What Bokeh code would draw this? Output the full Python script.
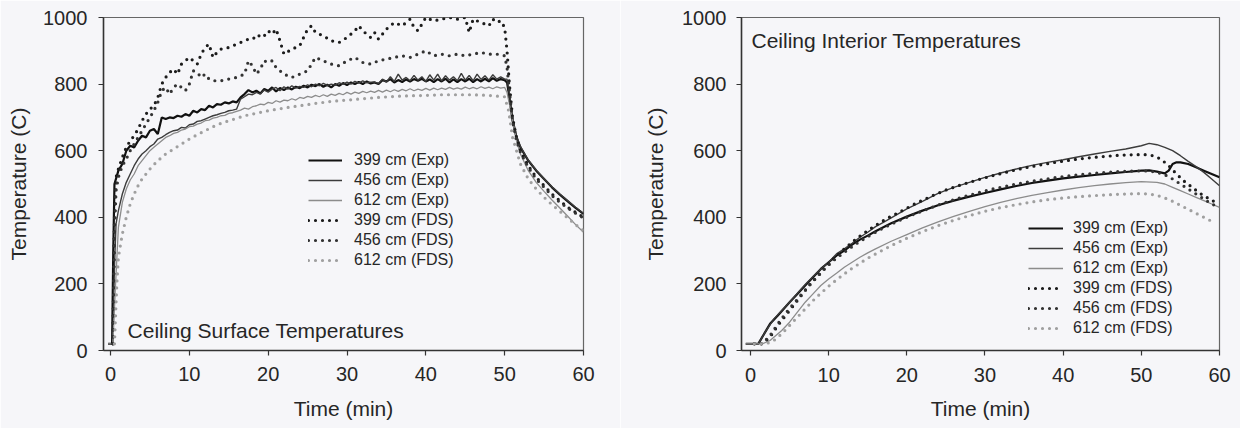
from bokeh.plotting import figure
from bokeh.layouts import row
from bokeh.models import Range1d, FixedTicker, Legend, LegendItem, Label
from bokeh.embed import file_html
from bokeh.resources import INLINE

# ---------------- data: ceiling surface (left) ----------------
SURF_GRID = [1.0, 1.5, 2.0, 2.5, 3.0, 3.5, 4.0, 4.5, 5.0, 5.5, 6.0, 6.5, 7.0, 7.5, 8.0, 8.5, 9.0, 9.5, 10.0, 10.5,
             11.0, 11.5, 12.0, 12.5, 13.0, 13.5, 14.0, 14.5, 15.0, 15.5, 16.0, 16.5, 17.0, 17.5, 18.0, 18.5, 19.0, 19.5, 20.0, 20.5,
             21.0, 21.5, 22.0, 22.5, 23.0, 23.5, 24.0, 24.5, 25.0, 25.5, 26.0, 26.5, 27.0, 27.5, 28.0, 28.5, 29.0, 29.5, 30.0, 30.5,
             31.0, 31.5, 32.0, 32.5, 33.0, 33.5, 34.0, 34.5, 35.0, 35.5, 36.0, 36.5, 37.0, 37.5, 38.0, 38.5, 39.0, 39.5, 40.0, 40.5,
             41.0, 41.5, 42.0, 42.5, 43.0, 43.5, 44.0, 44.5, 45.0, 45.5, 46.0, 46.5, 47.0, 47.5, 48.0, 48.5, 49.0, 49.5, 50.0]
SURF_DECAY_T = [50.3, 50.6, 51.0, 51.5, 52.0, 53.0, 54.0, 55.0, 56.0, 57.0, 58.0, 59.0, 60.0]

surf_399_exp_rise_t = [-0.3, 0.2, 0.35, 0.5]
surf_399_exp_rise = [20, 20, 300, 500]
surf_399_exp_main = [540, 560, 600, 615, 610, 630, 645, 640, 660, 665, 650, 700, 695, 700, 698, 705, 702, 710, 705, 720,
                     715, 725, 722, 735, 730, 740, 738, 745, 742, 748, 745, 760, 770, 782, 775, 780, 772, 785, 780, 790,
                     778, 788, 782, 790, 784, 792, 788, 795, 790, 798, 794, 800, 792, 798, 790, 800, 795, 803, 797, 805,
                     800, 806, 800, 808, 802, 805, 800, 812, 808, 815, 805, 812, 806, 814, 808, 815, 810, 816, 808, 814,
                     806, 815, 808, 816, 805, 814, 806, 815, 808, 816, 806, 815, 808, 816, 808, 818, 810, 815, 812]
surf_399_exp_decay = [805, 760, 690, 640, 610, 570, 540, 515, 490, 468, 448, 428, 410]

surf_456_exp_rise_t = [-0.3, 0.3, 0.5, 0.7]
surf_456_exp_rise = [20, 20, 250, 380]
surf_456_exp_main = [420, 470, 505, 530, 555, 575, 590, 600, 612, 620, 635, 640, 648, 655, 660, 662, 670, 668, 678, 680,
                     688, 690, 695, 700, 705, 708, 712, 715, 720, 722, 725, 755, 762, 770, 768, 775, 770, 782, 776, 785,
                     790, 780, 792, 785, 795, 788, 793, 790, 798, 792, 800, 795, 802, 796, 800, 797, 804, 799, 806, 800,
                     808, 803, 810, 804, 806, 806, 802, 815, 806, 822, 808, 830, 812, 820, 810, 826, 812, 822, 808, 828,
                     812, 830, 810, 825, 812, 822, 810, 832, 812, 826, 810, 830, 814, 825, 812, 828, 815, 822, 815]
surf_456_exp_decay = [815, 770, 700, 645, 612, 572, 542, 516, 492, 470, 450, 430, 412]

surf_612_exp_rise_t = [-0.3, 0.3, 0.6]
surf_612_exp_rise = [20, 20, 180]
surf_612_exp_main = [370, 445, 485, 512, 530, 555, 570, 585, 600, 610, 620, 630, 640, 645, 652, 655, 662, 665, 672, 674,
                     680, 683, 690, 692, 698, 700, 705, 706, 712, 714, 718, 722, 728, 725, 732, 735, 740, 738, 745, 742,
                     750, 746, 752, 750, 756, 752, 760, 757, 763, 760, 766, 762, 768, 763, 770, 766, 772, 768, 775, 770,
                     776, 772, 778, 774, 779, 775, 781, 776, 782, 777, 783, 778, 784, 780, 786, 780, 785, 781, 787, 782,
                     788, 783, 788, 784, 790, 785, 789, 785, 791, 786, 790, 786, 792, 787, 791, 786, 792, 788, 790]
surf_612_exp_decay = [775, 740, 690, 630, 590, 540, 505, 478, 452, 428, 403, 378, 355]

surf_399_fds_t = [0.3, 0.5, 0.7, 1.0, 1.5, 2.0, 2.5, 3.0, 3.5, 4.0, 4.5, 5.0, 5.5, 6.0, 6.5, 7.0, 7.5, 8.0, 8.5, 9.0,
                  10.0, 10.5, 11.0, 11.5, 12.0, 12.5, 13.0, 13.5, 14.0, 15.0, 16.0, 17.0, 18.0, 18.5, 19.0, 19.5, 20.0, 20.5,
                  21.0, 21.5, 22.0, 23.0, 24.0, 25.0, 25.5, 26.0, 27.0, 28.0, 29.0, 30.0, 31.0, 31.5, 32.0, 33.0, 33.5, 34.0,
                  35.0, 36.0, 37.0, 38.0, 38.5, 39.0, 40.0, 41.0, 42.0, 43.0, 44.0, 45.0, 45.5, 46.0, 47.0, 48.0, 48.5, 49.0,
                  49.5, 50.0, 50.3, 50.6, 51.0, 51.5, 52.0, 53.0, 54.0, 55.0, 56.0, 57.0, 58.0, 59.0, 60.0]
surf_399_fds = [20, 400, 520, 545, 580, 610, 630, 645, 665, 690, 710, 725, 735, 760, 800, 820, 835, 845, 830, 860,
                880, 870, 860, 890, 910, 920, 880, 895, 905, 910, 920, 930, 940, 935, 950, 945, 960, 950,
                965, 930, 890, 905, 915, 965, 975, 955, 945, 930, 925, 940, 960, 975, 960, 940, 955, 935,
                965, 985, 975, 995, 970, 960, 1000, 990, 995, 1000, 995, 1000, 955, 995, 985, 975, 995, 985,
                990, 970, 900, 800, 700, 640, 600, 555, 520, 495, 470, 450, 430, 415, 400]

surf_456_fds_t = [0.3, 0.5, 0.7, 1.0, 1.5, 2.0, 2.5, 3.0, 3.5, 4.0, 4.5, 5.0, 5.5, 6.0, 6.5, 7.0, 7.5, 8.0, 8.5, 9.0,
                  9.5, 10.0, 10.5, 11.0, 11.5, 12.0, 12.5, 13.0, 14.0, 15.0, 16.0, 17.0, 17.5, 18.0, 18.5, 19.0, 19.5, 20.0,
                  20.5, 21.0, 22.0, 23.0, 24.0, 25.0, 26.0, 27.0, 28.0, 29.0, 30.0, 31.0, 32.0, 33.0, 34.0, 35.0, 36.0,
                  37.0, 38.0, 39.0, 40.0, 41.0, 42.0, 43.0, 44.0, 45.0, 46.0, 47.0, 48.0, 49.0, 50.0, 50.3, 50.6, 51.0,
                  51.5, 52.0, 53.0, 54.0, 55.0, 56.0, 57.0, 58.0, 59.0, 60.0]
surf_456_fds = [20, 350, 480, 520, 555, 575, 600, 620, 640, 660, 680, 700, 720, 745, 780, 790, 770, 790, 800, 790,
                780, 800, 840, 835, 820, 830, 815, 810, 810, 815, 820, 830, 870, 855, 830, 845, 870, 865,
                870, 850, 830, 820, 830, 840, 880, 870, 860, 855, 870, 880, 865, 860, 870, 875, 880,
                885, 880, 890, 900, 885, 890, 885, 890, 885, 890, 895, 890, 890, 885, 850, 780, 690,
                630, 595, 550, 515, 490, 465, 445, 428, 412, 398]

surf_612_fds_t = [0.5, 0.8, 1.0, 1.5, 2.0, 2.5, 3.0, 3.5, 4.0, 4.5, 5.0, 5.5, 6.0, 7.0, 8.0, 9.0, 10.0, 11.0, 12.0, 13.0,
                  14.0, 15.0, 16.0, 17.0, 18.0, 19.0, 20.0, 22.0, 24.0, 26.0, 28.0, 30.0, 32.0, 34.0, 36.0, 38.0, 40.0,
                  42.0, 44.0, 46.0, 48.0, 50.0, 50.5, 51.0, 52.0, 53.0, 54.0, 55.0, 56.0, 57.0, 58.0, 59.0, 60.0]
surf_612_fds = [20, 200, 280, 350, 400, 440, 470, 495, 515, 530, 545, 558, 570, 590, 605, 620, 635, 648, 660, 672,
                682, 690, 697, 705, 710, 715, 720, 728, 735, 742, 748, 752, 756, 760, 763, 765, 766,
                768, 768, 768, 766, 762, 720, 640, 560, 515, 485, 460, 438, 418, 398, 378, 360]

# ---------------- data: ceiling interior (right) ----------------
int_399_exp_t = [-0.6, 1.0, 1.5, 2.5, 3.5, 5.0, 6.0, 7.0, 8.0, 9.0, 10.0, 11.0, 12.0, 13.0, 14.0, 15.0, 16.0, 18.0, 20.0,
                 22.0, 24.0, 26.0, 28.0, 30.0, 32.0, 34.0, 36.0, 38.0, 40.0, 42.0, 44.0, 46.0, 48.0, 50.0, 51.0, 52.0,
                 53.0, 53.5, 54.0, 54.5, 55.0, 56.0, 57.0, 58.0, 59.0, 60.0]
int_399_exp = [20, 20, 40, 80, 105, 145, 170, 195, 220, 245, 265, 285, 300, 318, 333, 345, 358, 382, 402,
               420, 436, 450, 462, 473, 484, 494, 503, 510, 517, 522, 527, 532, 536, 540, 541, 537,
               532, 540, 560, 565, 565, 560, 550, 540, 530, 520]

int_456_exp_t = [-0.6, 1.0, 2.0, 3.0, 4.0, 5.0, 6.0, 7.0, 8.0, 9.0, 10.0, 11.0, 12.0, 13.0, 14.0, 15.0, 16.0, 17.0, 18.0,
                 20.0, 22.0, 24.0, 26.0, 28.0, 30.0, 32.0, 34.0, 36.0, 38.0, 40.0, 42.0, 44.0, 46.0, 48.0, 50.0, 51.0,
                 52.0, 53.0, 54.0, 55.0, 56.0, 57.0, 58.0, 59.0, 60.0]
int_456_exp = [20, 20, 60, 95, 120, 145, 172, 198, 222, 245, 265, 290, 305, 322, 340, 355, 372, 385, 398,
               425, 448, 472, 490, 505, 520, 533, 545, 556, 565, 573, 582, 590, 598, 605, 615, 622,
               618, 610, 600, 585, 568, 552, 535, 515, 495]

int_612_exp_t = [-0.6, 1.5, 2.5, 4.0, 5.0, 6.0, 7.0, 8.0, 9.0, 10.0, 11.0, 12.0, 13.0, 14.0, 15.0, 16.0, 18.0, 20.0,
                 22.0, 24.0, 26.0, 28.0, 30.0, 32.0, 34.0, 36.0, 38.0, 40.0, 42.0, 44.0, 46.0, 48.0, 50.0, 52.0,
                 53.0, 54.0, 55.0, 56.0, 57.0, 58.0, 59.0, 60.0]
int_612_exp = [20, 20, 30, 60, 85, 115, 145, 170, 195, 215, 232, 250, 265, 280, 293, 305, 328, 348,
               368, 386, 403, 418, 432, 445, 456, 466, 474, 482, 489, 495, 500, 504, 507, 505,
               500, 490, 480, 470, 460, 450, 440, 430]

int_399_fds_t = [0.5, 1.5, 2.5, 3.5, 4.5, 5.5, 6.5, 7.5, 8.5, 9.5, 10.5, 11.5, 12.5, 13.5, 14.5, 15.5, 16.5, 17.5, 19.0,
                 21.0, 23.0, 25.0, 27.0, 29.0, 31.0, 33.0, 35.0, 37.0, 39.0, 41.0, 43.0, 45.0, 47.0, 49.0, 50.5, 51.5,
                 52.5, 53.5, 54.5, 55.5, 56.5, 57.5, 58.5, 59.5]
int_399_fds = [20, 20, 40, 75, 105, 135, 165, 195, 222, 248, 272, 295, 315, 335, 352, 368, 383, 397, 415,
               440, 462, 482, 498, 512, 525, 537, 548, 557, 565, 572, 578, 582, 586, 588, 588, 585,
               575, 555, 530, 508, 490, 472, 458, 445]

int_456_fds_t = [0.5, 1.5, 2.5, 3.5, 4.5, 5.5, 6.5, 7.5, 8.5, 9.5, 10.5, 12.0, 13.5, 15.0, 17.0, 19.0, 21.0, 23.0, 25.0,
                 27.0, 29.0, 31.0, 33.0, 35.0, 37.0, 39.0, 41.0, 43.0, 45.0, 47.0, 49.0, 51.0, 52.0, 53.0, 54.0, 55.0,
                 56.0, 57.0, 58.0, 59.0, 60.0]
int_456_fds = [20, 20, 45, 80, 112, 140, 168, 195, 220, 245, 268, 295, 320, 342, 368, 390, 410, 428, 445,
               460, 473, 485, 495, 504, 512, 519, 525, 530, 534, 537, 539, 539, 535, 528, 515, 500,
               485, 470, 455, 440, 430]

int_612_fds_t = [0.5, 2.0, 3.0, 4.0, 5.0, 6.0, 7.0, 8.0, 9.0, 10.0, 11.0, 12.0, 13.0, 14.0, 15.0, 16.0, 18.0, 20.0, 22.0,
                 24.0, 26.0, 28.0, 30.0, 32.0, 34.0, 36.0, 38.0, 40.0, 42.0, 44.0, 46.0, 48.0, 50.0, 51.0, 52.0, 53.0,
                 54.0, 55.0, 56.0, 57.0, 58.0, 59.0, 59.5]
int_612_fds = [20, 20, 30, 50, 75, 100, 125, 150, 172, 193, 212, 230, 247, 262, 277, 290, 315, 337, 357,
               375, 391, 405, 418, 429, 438, 446, 453, 458, 462, 465, 468, 470, 471, 470, 466, 458,
               448, 436, 424, 412, 400, 388, 380]

LABELS = ["399 cm (Exp)", "456 cm (Exp)", "612 cm (Exp)", "399 cm (FDS)", "456 cm (FDS)", "612 cm (FDS)"]
X_TICKS = [0, 10, 20, 30, 40, 50, 60]
Y_TICKS = [0, 200, 400, 600, 800, 1000]

# ---------------- styling ----------------
BG = "#f6f6f9"
FONT = "Liberation Sans"
TXT = "#262626"
STYLES = [
    dict(line_color="#111111", line_width=2.2),
    dict(line_color="#3c3c3c", line_width=1.4),
    dict(line_color="#8c8c8c", line_width=1.3),
    dict(line_color="#1c1c1c", line_width=3.2, line_dash="0 7", line_cap="round"),
    dict(line_color="#333333", line_width=3.2, line_dash="0 7", line_cap="round"),
    dict(line_color="#a0a0a0", line_width=3.2, line_dash="0 7", line_cap="round"),
]


def make_fig(width, height, bl, br, bt, bb, xstart, tick_std, xlab_std, ylab_std):
    p = figure(width=width, height=height, output_backend="svg", toolbar_location=None,
               x_range=Range1d(xstart, 60), y_range=Range1d(0, 1000),
               min_border_left=bl, min_border_right=br, min_border_top=bt, min_border_bottom=bb,
               background_fill_color=BG, border_fill_color=BG)
    p.grid.visible = False
    p.outline_line_color = "#666666"
    p.outline_line_width = 1.2
    p.xaxis.ticker = FixedTicker(ticks=X_TICKS)
    p.yaxis.ticker = FixedTicker(ticks=Y_TICKS)
    p.xaxis.axis_label = "Time (min)"
    p.yaxis.axis_label = "Temperature (C)"
    for ax in (p.xaxis[0], p.yaxis[0]):
        ax.axis_line_color = "#333333"
        ax.axis_line_width = 1.5
        ax.major_tick_line_color = "#333333"
        ax.major_tick_line_width = 1.2
        ax.major_tick_out = 5
        ax.major_tick_in = 0
        ax.minor_tick_out = 0
        ax.minor_tick_in = 0
        ax.major_label_text_font = FONT
        ax.major_label_text_font_size = "20px"
        ax.major_label_text_color = TXT
        ax.axis_label_text_font = FONT
        ax.axis_label_text_font_size = "21px"
        ax.axis_label_text_font_style = "normal"
        ax.axis_label_text_color = TXT
    p.xaxis.major_label_standoff = tick_std[0]
    p.yaxis.major_label_standoff = tick_std[1]
    p.xaxis.axis_label_standoff = xlab_std
    p.yaxis.axis_label_standoff = ylab_std
    return p


def add_series(p, series, legend_loc, glyph_w, standoff):
    items = []
    for (xs, ys), st, lab in zip(series, STYLES, LABELS):
        r = p.line(xs, ys, **st)
        items.append(LegendItem(label=lab, renderers=[r]))
    leg = Legend(items=items, location=legend_loc, border_line_color=None, background_fill_alpha=0,
                 padding=0, margin=0, spacing=0, label_height=20, glyph_height=20, glyph_width=glyph_w,
                 label_standoff=standoff, label_text_font=FONT, label_text_font_size="16px",
                 label_text_color=TXT)
    p.add_layout(leg)


# left chart (page has no margin: figure starts at x=0, y=0)
p1 = make_fig(620, 428, 103, 37, 15, 78, -0.89, (11, 11), 13, 10)
surf_series = [
    (surf_399_exp_rise_t + SURF_GRID + SURF_DECAY_T, surf_399_exp_rise + surf_399_exp_main + surf_399_exp_decay),
    (surf_456_exp_rise_t + SURF_GRID + SURF_DECAY_T, surf_456_exp_rise + surf_456_exp_main + surf_456_exp_decay),
    (surf_612_exp_rise_t + SURF_GRID + SURF_DECAY_T, surf_612_exp_rise + surf_612_exp_main + surf_612_exp_decay),
    (surf_399_fds_t, surf_399_fds),
    (surf_456_fds_t, surf_456_fds),
    (surf_612_fds_t, surf_612_fds),
]
add_series(p1, surf_series, (205, 80), 34, 12)
p1.add_layout(Label(x=2.16, y=59.6, text="Ceiling Surface Temperatures", text_font=FONT,
                    text_font_size="21px", text_color=TXT, text_baseline="middle"))

# right chart
p2 = make_fig(620, 428, 121, 21, 17, 76, -1.15, (12, 10), 12, 12)
int_series = [
    (int_399_exp_t, int_399_exp),
    (int_456_exp_t, int_456_exp),
    (int_612_exp_t, int_612_exp),
    (int_399_fds_t, int_399_fds),
    (int_456_fds_t, int_456_fds),
    (int_612_fds_t, int_612_fds),
]
add_series(p2, int_series, (287, 12), 35, 10)
p2.add_layout(Label(x=0.13, y=932, text="Ceiling Interior Temperatures", text_font=FONT,
                    text_font_size="21px", text_color=TXT, text_baseline="middle"))

layout = row(p1, p2)
open("out.html", "w").write(file_html(layout, INLINE))
